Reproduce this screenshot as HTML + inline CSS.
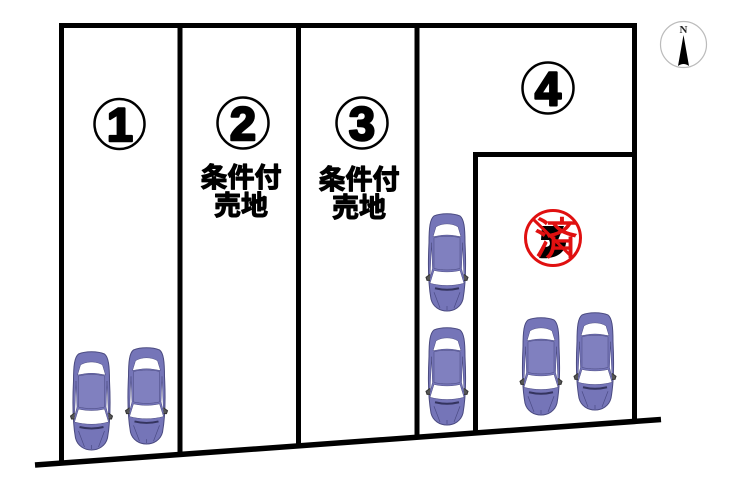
<!DOCTYPE html>
<html>
<head>
<meta charset="utf-8">
<style>
html,body{margin:0;padding:0;background:#fff;width:740px;height:490px;overflow:hidden}
svg{display:block}
.num{font-family:"Liberation Sans",sans-serif;font-weight:700;font-size:47px;text-anchor:middle;fill:#000;stroke:#000;stroke-width:2.500px;stroke-linejoin:round}
.jp{font-family:"Liberation Sans","Noto Sans CJK JP",sans-serif;font-weight:700;font-size:27px;text-anchor:middle;fill:#000;stroke:#000;stroke-width:1.100px;stroke-linejoin:round}
</style>
</head>
<body>
<svg width="740" height="490" viewBox="0 0 740 490" xmlns="http://www.w3.org/2000/svg">
<defs>
<g id="car">
  <path d="M-16 87 C-19 70 -19 50 -18 30 C-18 15 -17 6 -13 3 C-6 0 6 0 13 3 C17 6 18 15 18 30 C19 50 19 70 16 87 C14 95 7 99 0 99 C-7 99 -14 95 -16 87Z" fill="#7575b8" stroke="#4a4a80" stroke-width="1"/>
  <path d="M-11 14 C-5 10 5 10 11 14 L14 24 L8 23 C3 22 -3 22 -8 23 L-14 24Z" fill="#fff" stroke="#4a4a80" stroke-width=".5"/>
  <path d="M-13 25 C-5 23 5 23 13 25 L13 56 C5 58 -5 58 -13 56Z" fill="#8080bf" stroke="#4a4a80" stroke-width=".5"/>
  <path d="M-13 58 C-5 60 5 60 13 58 L17 71 C6 74 -6 74 -17 71Z" fill="#fff" stroke="#4a4a80" stroke-width=".5"/>
  <path d="M-15.500 30 L-14.500 56 L-17 66 Z M15.500 30 L14.500 56 L17 66 Z" fill="#fff" stroke="#4a4a80" stroke-width=".5"/>
  <path d="M-12 76 C-4 78 4 78 12 76" fill="none" stroke="#34345f" stroke-width="2"/>
  <path d="M-13 80 L-7 96 M13 80 L7 96 M0 94 V98" fill="none" stroke="#4b4b85" stroke-width=".7"/>
  <path d="M-17 62 L-21 65 L-20 68 L-17 68 M17 62 L21 65 L20 68 L17 68" fill="#555" stroke="#333" stroke-width="1"/>
</g>
</defs>

<g fill="none" stroke="#000" stroke-width="5">
  <path d="M61.500 463 V25.500 H634.500 V420"/>
  <path d="M180 452 V25"/>
  <path d="M298.500 444 V25"/>
  <path d="M417 436 V25"/>
  <path d="M475.500 432 V154.500 H634"/>
  <path d="M35 465 L661 419.500" stroke-width="5.500"/>
</g>

<use href="#car" transform="translate(91.500 351)"/>
<use href="#car" transform="translate(146.500 347) scale(1 .98)"/>
<use href="#car" transform="translate(447 213) scale(1 .99)"/>
<use href="#car" transform="translate(447 327) scale(1 .99)"/>
<use href="#car" transform="translate(541 317) scale(1 .99)"/>
<use href="#car" transform="translate(595 312) scale(1 .99)"/>

<g fill="#fff" stroke="#000" stroke-width="2.500">
  <circle cx="119.500" cy="124" r="25"/>
  <circle cx="243" cy="123" r="25.500"/>
  <circle cx="362" cy="123" r="25.500"/>
  <circle cx="548" cy="88" r="25.500"/>
</g>
<text class="num" x="120" y="141">1</text>
<text class="num" x="243" y="140">2</text>
<text class="num" x="362" y="140">3</text>
<text class="num" x="548" y="105">4</text>

<text class="jp" x="241" y="187">条件付</text>
<text class="jp" x="241" y="215">売地</text>
<text class="jp" x="359" y="189">条件付</text>
<text class="jp" x="359" y="217">売地</text>

<circle cx="553" cy="238" r="27.500" fill="#fff" stroke="#e01010" stroke-width="3"/>
<path d="M542 226 H564 L558 240 H566 C567 252 556 260 539 258 L545 247 C550 247 551 244 549 240 L541 240Z" fill="#000"/>
<text x="556" y="254" font-family="'Liberation Sans','Noto Sans CJK JP',sans-serif" font-weight="400" font-size="44" text-anchor="middle" fill="#e01010" stroke="#e01010" stroke-width=".6">済</text>
<path d="M533 219 L572 257" fill="none" stroke="#e01010" stroke-width="3"/>

<circle cx="683.500" cy="44.500" r="23" fill="#fff" stroke="#bbb" stroke-width="1.200"/>
<text x="683.500" y="33" font-family="'Liberation Serif',serif" font-size="11" font-weight="700" text-anchor="middle" fill="#222">N</text>
<path d="M683.500 35 L678 66 Q683.500 62 689 66Z" fill="#000"/>
</svg>
</body>
</html>
